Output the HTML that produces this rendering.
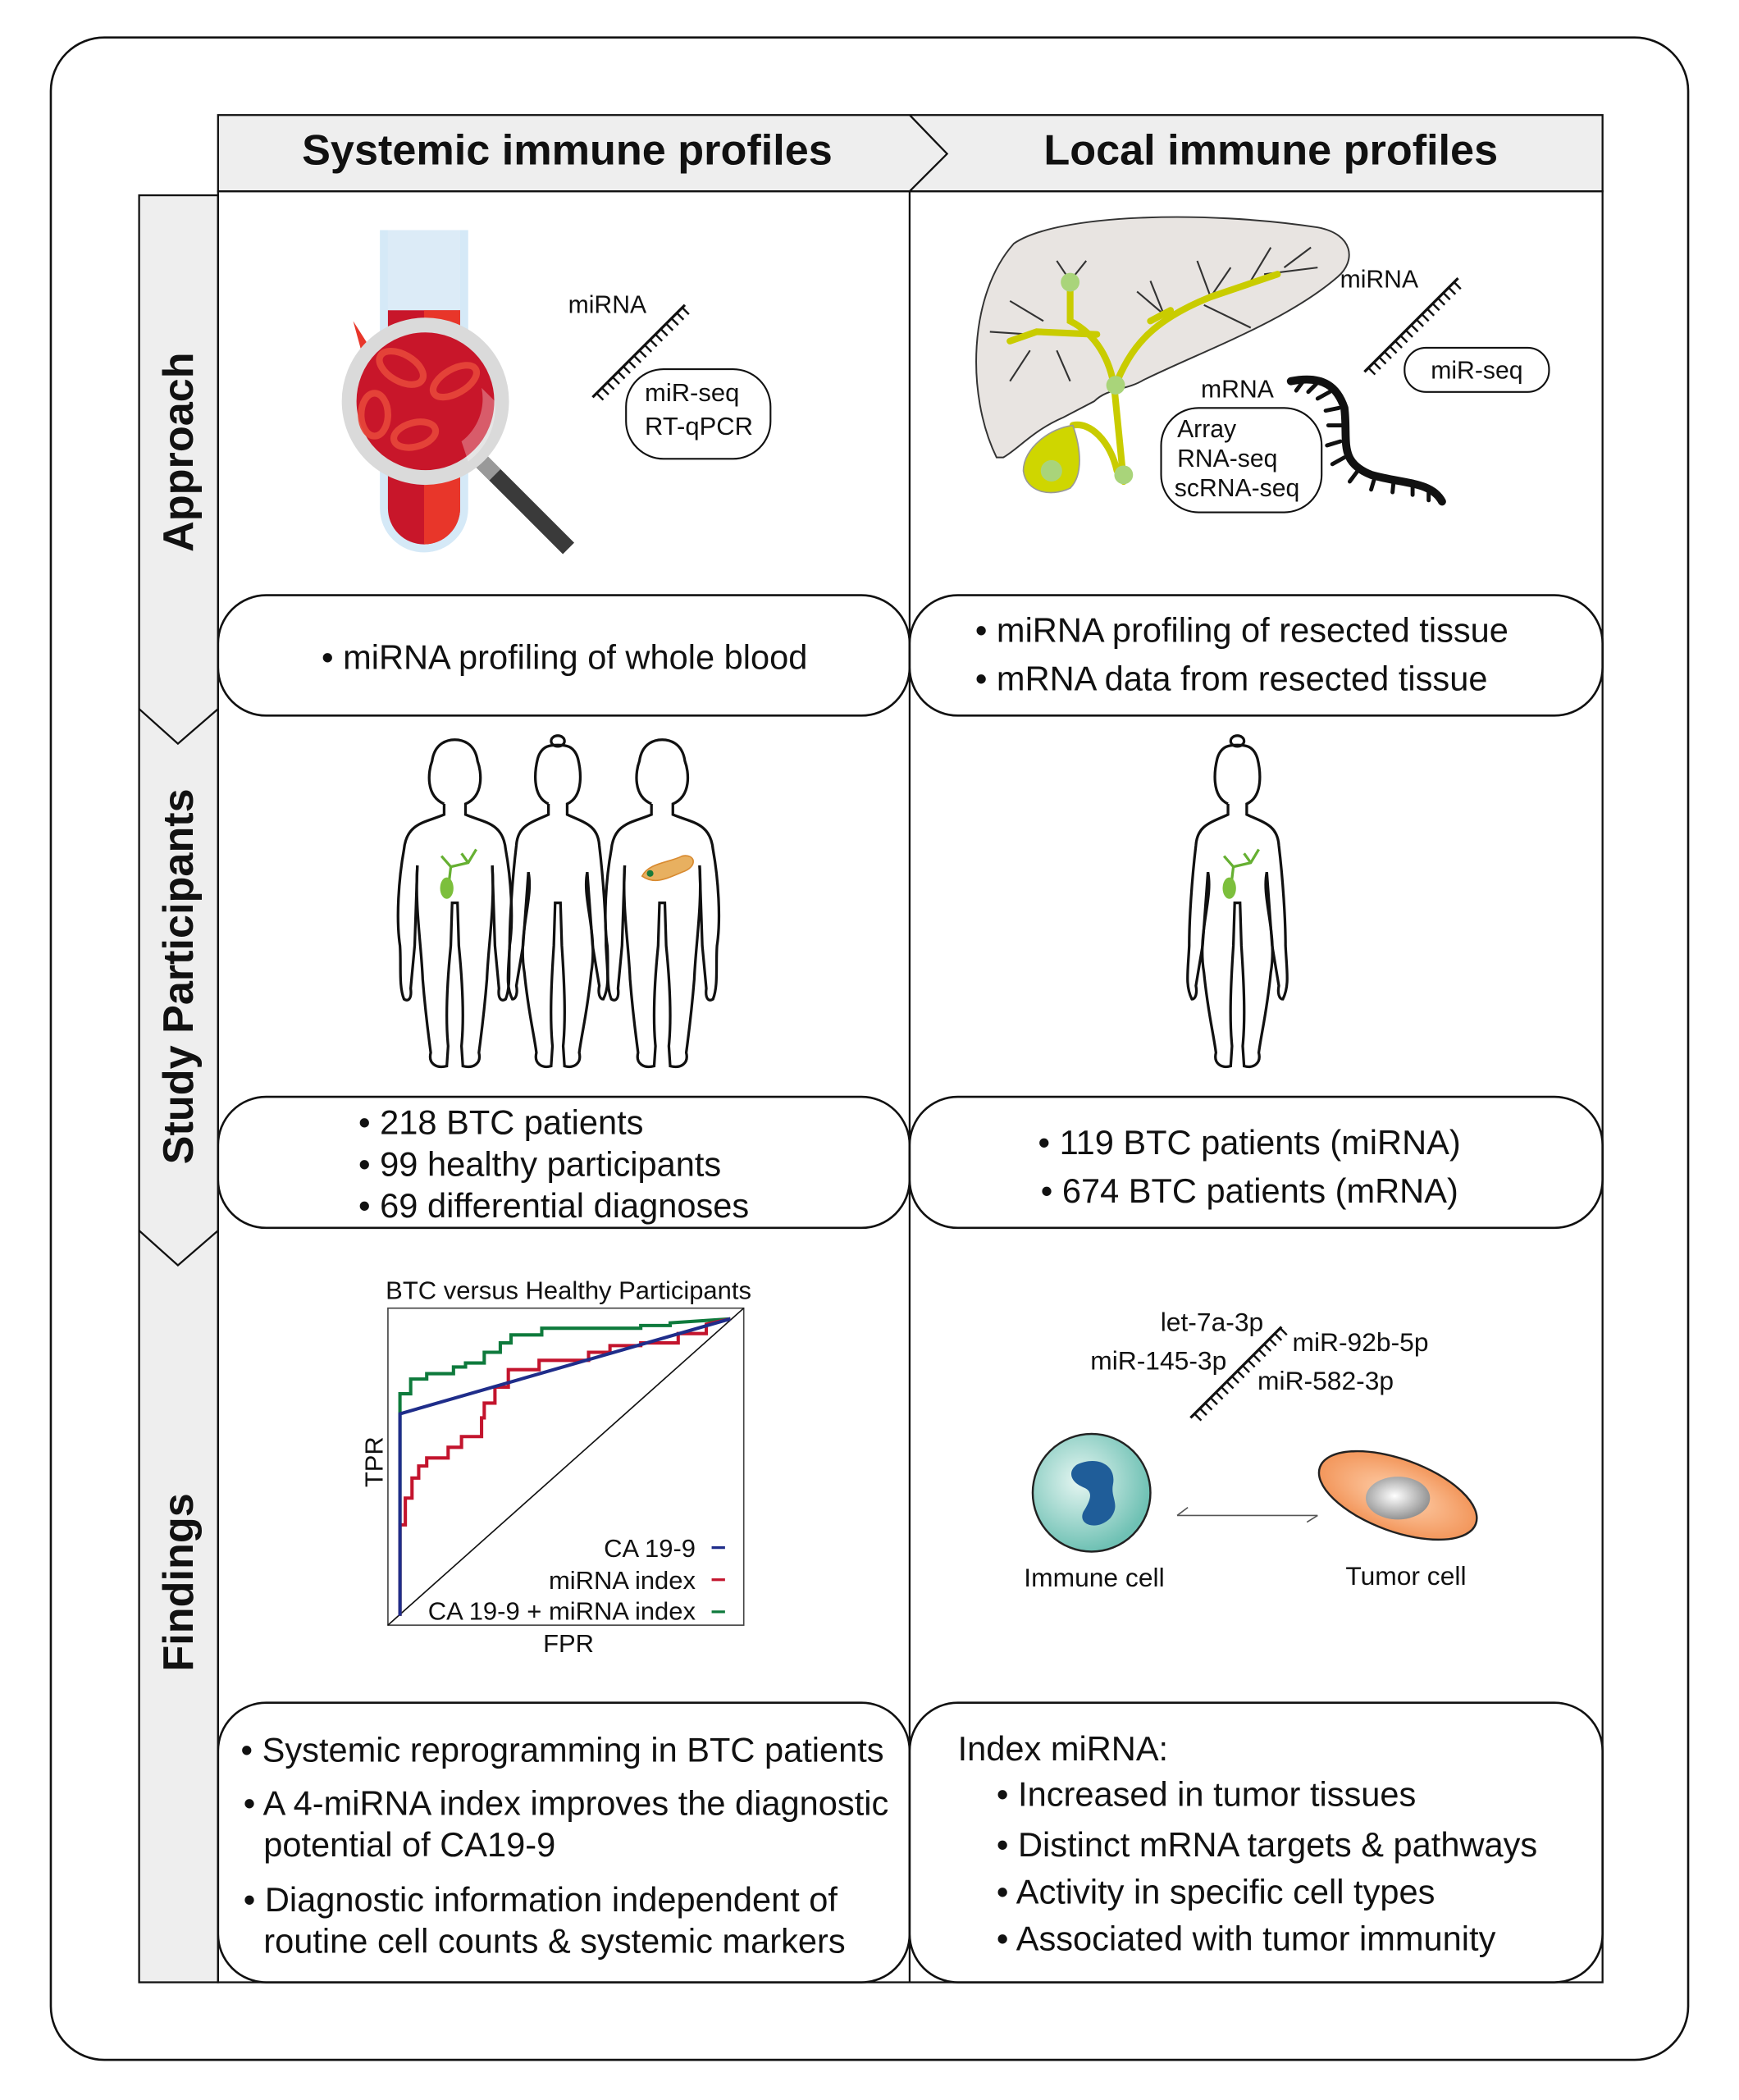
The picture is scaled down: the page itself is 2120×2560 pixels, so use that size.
<!DOCTYPE html>
<html><head><meta charset="utf-8"><style>
html,body{margin:0;padding:0;background:#fff}
svg{display:block}
text{font-family:"Liberation Sans",Arial,sans-serif;fill:#111}
</style></head><body>
<svg width="2120" height="2560" viewBox="0 0 1300 1570" preserveAspectRatio="none" xmlns="http://www.w3.org/2000/svg">
<defs>
<radialGradient id="cellg" cx="0.4" cy="0.4" r="0.6"><stop offset="0" stop-color="#e6f6f2"/><stop offset="1" stop-color="#6fc1b4"/></radialGradient>
<radialGradient id="tumg" cx="0.5" cy="0.5" r="0.6"><stop offset="0" stop-color="#ffd3b0"/><stop offset="1" stop-color="#f08a4a"/></radialGradient>
<radialGradient id="nucg" cx="0.45" cy="0.45" r="0.6"><stop offset="0" stop-color="#ffffff"/><stop offset="1" stop-color="#8a8a8a"/></radialGradient>
<g id="man" fill="none" stroke="#111" stroke-width="2">
<path d="M-8,44 C-22,38 -20,20 -17,12 C-15,-2 -5,-4 0,-4 C5,-4 15,-2 17,12 C20,20 22,38 8,44 L8,52 C22,58 36,58 38,78 C42,100 44,130 41,150 C40,165 42,180 38,190 C35,192 32,190 33,182 L30,150 L28,90"/>
<path d="M-8,44 L-8,52 C-22,58 -36,58 -38,78 C-42,100 -44,130 -41,150 C-40,165 -42,180 -38,190 C-35,192 -32,190 -33,182 L-30,150 L-28,90"/>
<path d="M-28,90 C-30,120 -25,150 -24,175 C-22,200 -20,215 -18,230 C-20,238 -14,242 -6,240 L-5,225 C-7,205 -6,180 -3,150 L-2,118 L2,118 L3,150 C6,180 7,205 5,225 L6,240 C14,242 20,238 18,230 C20,215 22,200 24,175 C25,150 30,120 28,90"/>
</g>
<g id="woman" fill="none" stroke="#111" stroke-width="2">
<ellipse cx="0" cy="-3" rx="5" ry="4"/>
<path d="M-7,44 C-20,38 -17,18 -15,10 C-12,0 -5,0 0,0 C5,0 12,0 15,10 C17,18 20,38 7,44 L7,52 C20,58 30,60 31,75 C34,100 36,130 36,150 C37,170 39,180 34,190 C31,190 30,185 31,180 L26,150 L22,95"/>
<path d="M-7,44 L-7,52 C-20,58 -30,60 -31,75 C-34,100 -36,130 -36,150 C-37,170 -39,180 -34,190 C-31,190 -30,185 -31,180 L-26,150 L-22,95"/>
<path d="M-22,95 C-18,115 -30,140 -25,170 C-22,200 -18,215 -16,230 C-18,238 -12,242 -5,240 L-4,225 C-6,205 -5,180 -3,150 L-2,118 L2,118 L3,150 C5,180 6,205 4,225 L5,240 C12,242 18,238 16,230 C18,215 22,200 25,170 C30,140 18,115 22,95"/>
</g>
</defs>

<rect x="38" y="28" width="1224" height="1512" rx="40" fill="#fff" stroke="#111" stroke-width="1.6"/>

<!-- header -->
<rect x="163" y="86" width="1035" height="57" fill="#eeeeee" stroke="#111" stroke-width="1.4"/>
<polyline points="680,86 708,115 680,143" fill="none" stroke="#111" stroke-width="1.4"/>
<text x="424" y="123" font-size="32" font-weight="bold" text-anchor="middle">Systemic immune profiles</text>
<text x="950" y="123" font-size="32" font-weight="bold" text-anchor="middle">Local immune profiles</text>

<!-- left bar -->
<rect x="104" y="146" width="59" height="1336" fill="#eeeeee" stroke="#111" stroke-width="1.4"/>
<polyline points="104,530 133,556 163,530" fill="none" stroke="#111" stroke-width="1.4"/>
<polyline points="104,920 133,946 163,920" fill="none" stroke="#111" stroke-width="1.4"/>
<text transform="translate(144,338) rotate(-90)" font-size="32" font-weight="bold" text-anchor="middle">Approach</text>
<text transform="translate(144,730) rotate(-90)" font-size="32" font-weight="bold" text-anchor="middle">Study Participants</text>
<text transform="translate(144,1183) rotate(-90)" font-size="32" font-weight="bold" text-anchor="middle">Findings</text>

<!-- grid -->
<rect x="163" y="143" width="1035" height="1339" fill="none" stroke="#111" stroke-width="1.4"/>
<line x1="680" y1="143" x2="680" y2="1482" stroke="#111" stroke-width="1.4"/>

<!-- rounded boxes -->
<g fill="#fff" stroke="#111" stroke-width="1.6">
<rect x="163" y="445" width="517" height="90" rx="36"/>
<rect x="680" y="445" width="518" height="90" rx="36"/>
<rect x="163" y="820" width="517" height="98" rx="36"/>
<rect x="680" y="820" width="518" height="98" rx="36"/>
<rect x="163" y="1273" width="517" height="209" rx="36"/>
<rect x="680" y="1273" width="518" height="209" rx="36"/>
</g>

<g font-size="25.5">
<text x="422" y="500" text-anchor="middle">• miRNA profiling of whole blood</text>
<text x="729" y="480">• miRNA profiling of resected tissue</text>
<text x="729" y="516">• mRNA data from resected tissue</text>
<text x="268" y="848">• 218 BTC patients</text>
<text x="268" y="879">• 99 healthy participants</text>
<text x="268" y="910">• 69 differential diagnoses</text>
<text x="776" y="863">• 119 BTC patients (miRNA)</text>
<text x="778" y="899">• 674 BTC patients (mRNA)</text>
<text x="180" y="1317">• Systemic reprogramming in BTC patients</text>
<text x="182" y="1357">• A 4-miRNA index improves the diagnostic</text>
<text x="197" y="1388">potential of CA19-9</text>
<text x="182" y="1429">• Diagnostic information independent of</text>
<text x="197" y="1460">routine cell counts &amp; systemic markers</text>
<text x="716" y="1316">Index miRNA:</text>
<text x="745" y="1350">• Increased in tumor tissues</text>
<text x="745" y="1388">• Distinct mRNA targets &amp; pathways</text>
<text x="745" y="1423">• Activity in specific cell types</text>
<text x="745" y="1458">• Associated with tumor immunity</text>
</g>

<!-- blood tube -->
<path d="M284,172 H350 V380 A33,33 0 0 1 284,380 Z" fill="#d5e9f7"/>
<path d="M290,172 H344 V380 A27,27 0 0 1 290,380 Z" fill="#dcebf7"/>
<path d="M290,232 H344 V380 A27,27 0 0 1 290,380 Z" fill="#c8162a"/>
<path d="M317,232 H344 V380 A27,27 0 0 1 317,407 Z" fill="#e8362a"/>
<path d="M264,240 L278,262 L270,262 Z" fill="#e8362a"/>
<line x1="355" y1="340" x2="425" y2="410" stroke="#3a3a3a" stroke-width="12"/>
<line x1="352" y1="337" x2="370" y2="355" stroke="#999" stroke-width="12"/>
<circle cx="318" cy="300" r="57" fill="#c8162a" stroke="#dadada" stroke-width="11"/>
<g fill="none" stroke="#e8473a" stroke-width="5" opacity="0.9">
<ellipse cx="300" cy="275" rx="18" ry="10" transform="rotate(30 300 275)"/>
<ellipse cx="340" cy="285" rx="18" ry="9" transform="rotate(-30 340 285)"/>
<ellipse cx="310" cy="325" rx="16" ry="9" transform="rotate(-15 310 325)"/>
<ellipse cx="280" cy="310" rx="10" ry="16"/>
</g>
<path d="M345,330 A40,40 0 0 0 360,290 L370,300 A50,50 0 0 1 350,345 Z" fill="#ffffff" opacity="0.3"/>

<!-- miRNA ladder left -->
<line x1="443" y1="297" x2="512" y2="228" stroke="#111" stroke-width="2"/>
<g stroke="#111" stroke-width="1.5">
<path d="M446,294 l5,5 M450,290 l5,5 M454,286 l5,5 M458,282 l5,5 M462,278 l5,5 M466,274 l5,5 M470,270 l5,5 M474,266 l5,5 M478,262 l5,5 M482,258 l5,5 M486,254 l5,5 M490,250 l5,5 M494,246 l5,5 M498,242 l5,5 M502,238 l5,5 M506,234 l5,5 M510,230 l5,5"/>
</g>
<text x="454" y="234" font-size="18.5" text-anchor="middle">miRNA</text>
<rect x="468" y="276" width="108" height="67" rx="28" fill="#fff" stroke="#111" stroke-width="1.3"/>
<text x="482" y="300" font-size="19">miR-seq</text>
<text x="482" y="325" font-size="19">RT-qPCR</text>

<!-- liver -->
<path d="M745,342 C722,295 724,220 758,182 C790,160 900,157 985,170 C1012,175 1014,195 1000,207 C962,240 900,262 855,284 C842,292 828,290 818,300 L795,312 C772,322 762,335 750,342 Z" fill="#e8e4e1" stroke="#333" stroke-width="1.2"/>
<g fill="none" stroke="#333" stroke-width="1.3">
<path d="M800,210 L790,195 M800,210 L812,195 M780,240 L755,225 M770,250 L740,248 M770,262 L755,285 M790,262 L800,285 M870,235 L860,210 M870,235 L850,218 M905,222 L895,195 M905,222 L920,200 M935,210 L950,185 M945,205 L985,200 M960,200 L980,185 M900,228 L935,245"/>
</g>
<g fill="none" stroke="#c9cc00" stroke-width="5" stroke-linecap="round">
<path d="M840,360 L833,290 C830,270 820,250 800,240 L800,210"/>
<path d="M833,290 C845,260 860,240 905,222 L955,205"/>
<path d="M820,250 L775,248 L755,255"/>
<path d="M835,352 C830,330 815,315 802,318"/>
<path d="M860,240 L875,232"/>
</g>
<path d="M802,318 C785,320 765,335 765,352 C767,368 785,372 800,365 C810,355 808,335 802,318 Z" fill="#cfd600" stroke="#999" stroke-width="1"/>
<g fill="#a9d47a"><circle cx="800" cy="211" r="7"/><circle cx="834" cy="288" r="7"/><circle cx="840" cy="355" r="7"/><circle cx="786" cy="352" r="8"/></g>
<text x="925" y="297" font-size="18.5" text-anchor="middle">mRNA</text>
<rect x="868" y="305" width="120" height="78" rx="28" fill="#fff" stroke="#111" stroke-width="1.3"/>
<text x="880" y="327" font-size="18.5">Array</text>
<text x="880" y="349" font-size="18.5">RNA-seq</text>
<text x="878" y="371" font-size="18.5">scRNA-seq</text>
<path d="M965,285 C990,280 1000,290 1005,305 C1008,330 1000,345 1025,355 C1050,362 1070,360 1078,375" fill="none" stroke="#111" stroke-width="6" stroke-linecap="round"/>
<g stroke="#111" stroke-width="3" stroke-linecap="round">
<path d="M975,284 l-6,8 M985,286 l-7,7 M994,293 l-9,5 M1001,305 l-10,2 M1003,318 l-10,0 M1002,330 l-10,3 M1005,342 l-9,5 M1015,352 l-6,8 M1028,356 l-3,10 M1042,358 l-1,10 M1056,360 l0,10 M1068,364 l0,10"/>
</g>
<!-- right miRNA -->
<line x1="1020" y1="278" x2="1090" y2="208" stroke="#111" stroke-width="2"/>
<path stroke="#111" stroke-width="1.5" d="M1023,275 l5,5 M1027,271 l5,5 M1031,267 l5,5 M1035,263 l5,5 M1039,259 l5,5 M1043,255 l5,5 M1047,251 l5,5 M1051,247 l5,5 M1055,243 l5,5 M1059,239 l5,5 M1063,235 l5,5 M1067,231 l5,5 M1071,227 l5,5 M1075,223 l5,5 M1079,219 l5,5 M1083,215 l5,5 M1087,211 l5,5"/>
<text x="1031" y="215" font-size="18.5" text-anchor="middle">miRNA</text>
<rect x="1050" y="260" width="108" height="33" rx="16" fill="#fff" stroke="#111" stroke-width="1.3"/>
<text x="1104" y="283" font-size="18.5" text-anchor="middle">miR-seq</text>

<!-- people -->
<use href="#man" x="340" y="557"/>
<use href="#woman" x="417" y="557"/>
<use href="#man" x="495" y="557"/>
<use href="#woman" x="925" y="557"/>
<g fill="none" stroke="#66b032" stroke-width="2">
<path d="M335,665 L337,648 L330,640 M337,648 L350,645 L356,635 M350,645 L345,638"/>
</g>
<ellipse cx="334" cy="664" rx="5" ry="8" fill="#7cbf3c"/>
<g fill="none" stroke="#66b032" stroke-width="2">
<path d="M920,665 L922,648 L915,640 M922,648 L935,645 L941,635 M935,645 L930,638"/>
</g>
<ellipse cx="919" cy="664" rx="5" ry="8" fill="#7cbf3c"/>
<path d="M480,655 C485,645 500,645 510,640 C520,638 522,648 510,652 C500,656 490,662 480,655 Z" fill="#e8b060" stroke="#d88a30" stroke-width="1"/>
<circle cx="486" cy="653" r="2.5" fill="#1a7a3a"/>

<!-- ROC -->
<text x="425" y="971" font-size="19" text-anchor="middle">BTC versus Healthy Participants</text>
<rect x="290" y="978" width="266" height="237" fill="#fff" stroke="#444" stroke-width="1"/>
<line x1="290" y1="1215" x2="556" y2="978" stroke="#111" stroke-width="1"/>
<polyline fill="none" stroke="#0e7a3c" stroke-width="2.5" points="299,1208 299,1042 307,1042 307,1031 319,1031 319,1027 339,1027 339,1022 348,1022 348,1019 362,1019 362,1011 374,1011 374,1004 382,1004 382,998 405,998 405,993 479,993 479,991 501,991 501,989 546,986"/>
<polyline fill="none" stroke="#c3142d" stroke-width="2.5" points="299,1208 299,1140 303,1140 303,1120 308,1120 308,1105 313,1105 313,1096 319,1096 319,1090 335,1090 335,1082 345,1082 345,1074 360,1074 360,1060 362,1060 362,1049 370,1049 370,1037 380,1037 380,1024 403,1024 403,1017 440,1017 440,1011 456,1011 456,1006 479,1006 479,1004 507,1004 507,997 528,997 528,990 546,986"/>
<polyline fill="none" stroke="#1f2d8a" stroke-width="2.5" points="299,1208 299,1057 546,986"/>
<text transform="translate(286,1093) rotate(-90)" font-size="19" text-anchor="middle">TPR</text>
<text x="425" y="1235" font-size="19" text-anchor="middle">FPR</text>
<g font-size="19" text-anchor="end">
<text x="520" y="1164">CA 19-9</text>
<text x="520" y="1188">miRNA index</text>
<text x="520" y="1211">CA 19-9 + miRNA index</text>
</g>
<line x1="532" y1="1157" x2="542" y2="1157" stroke="#1f2d8a" stroke-width="2"/>
<line x1="532" y1="1181" x2="542" y2="1181" stroke="#c3142d" stroke-width="2"/>
<line x1="532" y1="1205" x2="542" y2="1205" stroke="#0e7a3c" stroke-width="2"/>

<!-- right findings -->
<line x1="890" y1="1060" x2="958" y2="992" stroke="#111" stroke-width="2"/>
<path stroke="#111" stroke-width="1.5" d="M893,1057 l5,5 M897,1053 l5,5 M901,1049 l5,5 M905,1045 l5,5 M909,1041 l5,5 M913,1037 l5,5 M917,1033 l5,5 M921,1029 l5,5 M925,1025 l5,5 M929,1021 l5,5 M933,1017 l5,5 M937,1013 l5,5 M941,1009 l5,5 M945,1005 l5,5 M949,1001 l5,5 M953,997 l5,5 M957,993 l5,5"/>
<g font-size="19.5">
<text x="906" y="995" text-anchor="middle">let-7a-3p</text>
<text x="866" y="1024" text-anchor="middle">miR-145-3p</text>
<text x="1017" y="1010" text-anchor="middle">miR-92b-5p</text>
<text x="991" y="1039" text-anchor="middle">miR-582-3p</text>
<text x="818" y="1186" text-anchor="middle">Immune cell</text>
<text x="1051" y="1185" text-anchor="middle">Tumor cell</text>
</g>
<circle cx="816" cy="1116" r="44" fill="url(#cellg)" stroke="#222" stroke-width="1.5"/>
<path d="M805,1095 C820,1088 835,1095 832,1110 C830,1120 838,1125 830,1135 C820,1145 805,1140 810,1130 C815,1122 818,1115 810,1112 C800,1108 798,1100 805,1095 Z" fill="#1f5d99"/>
<ellipse cx="1045" cy="1118" rx="62" ry="27" transform="rotate(20 1045 1118)" fill="url(#tumg)" stroke="#222" stroke-width="1.5"/>
<ellipse cx="1045" cy="1120" rx="24" ry="16" fill="url(#nucg)"/>
<line x1="880" y1="1133" x2="985" y2="1133" stroke="#555" stroke-width="1"/>
<path d="M880,1133 l8,-6 M985,1133 l-8,5" stroke="#555" stroke-width="1"/>
</svg>
</body></html>
